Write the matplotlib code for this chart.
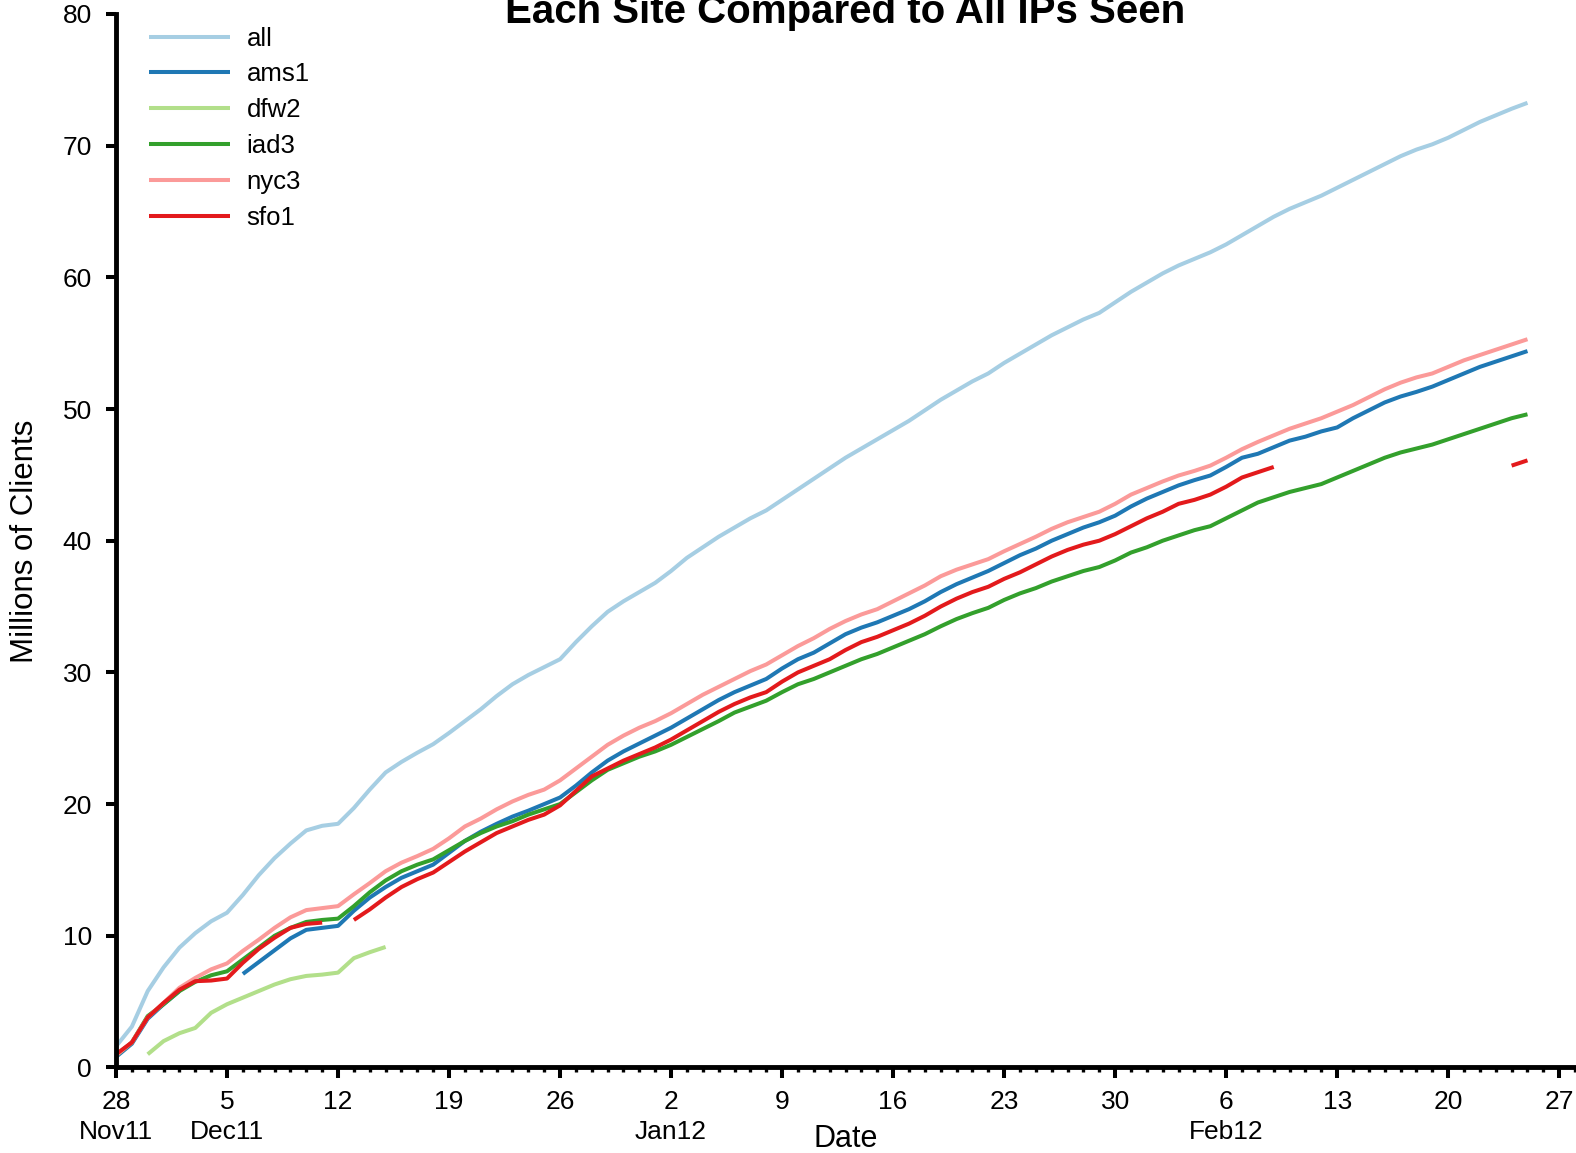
import numpy as np
import pandas as pd
import matplotlib
matplotlib.use('Agg')
import matplotlib.pyplot as plt
import matplotlib.dates as mdates
from matplotlib.ticker import FuncFormatter, MultipleLocator

plt.rcParams['font.family'] = ['Liberation Sans', 'DejaVu Sans']

nan = np.nan
start_day = '2011-11-28'  # один отсчёт в день

all_ips = [1.6, 3.1, 5.8, 7.6, 9.1, 10.2, 11.1, 11.75, 13.1, 14.6,
           15.9, 17.0, 18.0, 18.35, 18.5, 19.7, 21.1, 22.4, 23.2, 23.9,
           24.55, 25.4, 26.3, 27.2, 28.2, 29.1, 29.8, 30.4, 31.0, 32.3,
           33.5, 34.6, 35.4, 36.1, 36.8, 37.7, 38.7, 39.5, 40.3, 41.0,
           41.7, 42.3, 43.1, 43.9, 44.7, 45.5, 46.3, 47.0, 47.7, 48.4,
           49.1, 49.9, 50.7, 51.4, 52.1, 52.7, 53.5, 54.2, 54.9, 55.6,
           56.2, 56.8, 57.3, 58.1, 58.9, 59.6, 60.3, 60.9, 61.4, 61.9,
           62.5, 63.2, 63.9, 64.6, 65.2, 65.7, 66.2, 66.8, 67.4, 68.0,
           68.6, 69.2, 69.7, 70.1, 70.6, 71.2, 71.8, 72.3, 72.8, 73.25]

ams1 = [0.8, 1.8, 3.7, 4.8, 5.8, nan, nan, nan, 7.1, 8.0,
        8.9, 9.8, 10.45, 10.6, 10.75, 11.9, 12.9, 13.7, 14.4, 14.9,
        15.4, 16.3, 17.2, 17.9, 18.5, 19.05, 19.5, 20.0, 20.5, 21.4,
        22.4, 23.3, 24.0, 24.6, 25.2, 25.8, 26.5, 27.2, 27.9, 28.5,
        29.0, 29.5, 30.3, 31.0, 31.5, 32.2, 32.9, 33.4, 33.8, 34.3,
        34.8, 35.4, 36.1, 36.7, 37.2, 37.7, 38.3, 38.9, 39.4, 40.0,
        40.5, 41.0, 41.4, 41.9, 42.6, 43.2, 43.7, 44.2, 44.6, 44.95,
        45.6, 46.3, 46.6, 47.1, 47.6, 47.9, 48.3, 48.6, 49.3, 49.9,
        50.5, 50.95, 51.3, 51.7, 52.2, 52.7, 53.2, 53.6, 54.0, 54.4]

dfw2 = [nan, nan, 1.0, 2.0, 2.6, 3.0, 4.15, 4.8, 5.3, 5.8,
        6.3, 6.7, 6.95, 7.05, 7.2, 8.3, 8.75, 9.15] + [nan] * 72

iad3 = [0.9, 1.9, 3.9, 4.8, 5.8, 6.5, 7.0, 7.3, 8.2, 9.1,
        10.0, 10.6, 11.05, 11.2, 11.3, 12.25, 13.3, 14.2, 14.9, 15.4,
        15.8, 16.5, 17.2, 17.8, 18.3, 18.7, 19.2, 19.6, 20.0, 20.9,
        21.8, 22.6, 23.1, 23.6, 24.0, 24.5, 25.1, 25.7, 26.3, 26.95,
        27.4, 27.85, 28.5, 29.1, 29.5, 30.0, 30.5, 31.0, 31.4, 31.9,
        32.4, 32.9, 33.5, 34.05, 34.5, 34.9, 35.5, 36.0, 36.4, 36.9,
        37.3, 37.7, 38.0, 38.5, 39.1, 39.5, 40.0, 40.4, 40.8, 41.1,
        41.7, 42.3, 42.9, 43.3, 43.7, 44.0, 44.3, 44.8, 45.3, 45.8,
        46.3, 46.7, 47.0, 47.3, 47.7, 48.1, 48.5, 48.9, 49.3, 49.6]

nyc3 = [0.9, 1.9, 3.8, 4.9, 6.05, 6.8, 7.45, 7.9, 8.85, 9.7,
        10.6, 11.4, 11.95, 12.1, 12.25, 13.15, 14.0, 14.9, 15.55, 16.05,
        16.6, 17.4, 18.3, 18.9, 19.6, 20.2, 20.7, 21.1, 21.8, 22.7,
        23.6, 24.5, 25.2, 25.8, 26.3, 26.9, 27.6, 28.3, 28.9, 29.5,
        30.1, 30.6, 31.3, 32.0, 32.6, 33.3, 33.9, 34.4, 34.8, 35.4,
        36.0, 36.6, 37.3, 37.8, 38.2, 38.6, 39.2, 39.75, 40.3, 40.9,
        41.4, 41.8, 42.2, 42.8, 43.5, 44.0, 44.5, 44.95, 45.3, 45.7,
        46.3, 46.95, 47.5, 48.0, 48.5, 48.9, 49.3, 49.8, 50.3, 50.9,
        51.5, 52.0, 52.4, 52.7, 53.2, 53.7, 54.1, 54.5, 54.9, 55.3]

sfo1 = [1.0, 1.9, 3.8, 4.9, 5.9, 6.55, 6.6, 6.75, 7.95, 9.0,
        9.85, 10.6, 10.9, 11.0, nan, 11.2, 12.0, 12.9, 13.7, 14.3,
        14.8, 15.6, 16.4, 17.1, 17.8, 18.3, 18.8, 19.2, 19.9, 21.0,
        22.1, 22.7, 23.3, 23.8, 24.3, 24.9, 25.6, 26.3, 27.0, 27.6,
        28.1, 28.5, 29.3, 30.0, 30.5, 31.0, 31.7, 32.3, 32.7, 33.2,
        33.7, 34.3, 35.0, 35.6, 36.1, 36.5, 37.1, 37.6, 38.2, 38.8,
        39.3, 39.7, 40.0, 40.5, 41.1, 41.7, 42.2, 42.8, 43.1, 43.5,
        44.1, 44.8, 45.2, 45.6] + [nan] * 14 + [45.7, 46.1]

series = [('all', all_ips, '#a6cee3'), ('ams1', ams1, '#1f78b4'),
          ('dfw2', dfw2, '#b2df8a'), ('iad3', iad3, '#33a02c'),
          ('nyc3', nyc3, '#fb9a99'), ('sfo1', sfo1, '#e31a1c')]

dates = pd.date_range(start_day, periods=len(all_ips), freq='D')

fig = plt.figure(figsize=(15.76, 11.53), dpi=100)
ax = fig.add_axes([0.0736, 0.0742, 0.9258, 0.9137])

for name, vals, col in series:
    ax.plot(dates, vals, color=col, lw=2.9, label=name,
            solid_capstyle='butt', solid_joinstyle='round')

ax.set_xlim(pd.Timestamp('2011-11-28'), pd.Timestamp('2012-02-28'))
ax.set_ylim(0, 80)
ax.yaxis.set_major_locator(MultipleLocator(10))
ax.xaxis.set_major_locator(mdates.WeekdayLocator(byweekday=mdates.MO))
ax.xaxis.set_minor_locator(mdates.DayLocator())


def date_label(x, pos):  # число, а под первым в месяце - месяц
    d = mdates.num2date(x)
    if d.day <= 7 or pos == 0:
        return '%d\n%s' % (d.day, d.strftime('%b%y'))
    return '%d' % d.day


ax.xaxis.set_major_formatter(FuncFormatter(date_label))

for s in ['top', 'right']:
    ax.spines[s].set_visible(False)
for s in ['left', 'bottom']:
    ax.spines[s].set_linewidth(3.5)
ax.tick_params(axis='both', which='major', direction='out', width=2.9, labelsize=19)
ax.tick_params(axis='x', which='major', length=8, pad=8)
ax.tick_params(axis='x', which='minor', length=3.6, width=2.4)
ax.tick_params(axis='y', which='major', length=7.2, pad=10)

fig.text(25 / 1576, 1 - 541 / 1153, 'Millions of Clients', rotation=90,
         ha='center', va='center', fontsize=22.5)
fig.text(845.5 / 1576, 6.3 / 1153, 'Date', ha='center', va='baseline', fontsize=22)
fig.text(845.5 / 1576, 1 - 23 / 1153, 'Each Site Compared to All IPs Seen',
         ha='center', va='baseline', fontsize=29, fontweight='bold')

ax.legend(loc='upper left', bbox_to_anchor=(0.0226, 0.988), frameon=False,
          fontsize=18.5, handlelength=3.15, handletextpad=0.65,
          labelspacing=0.46, borderpad=0, borderaxespad=0)

fig.canvas.draw()
for t in ax.get_xticklabels():
    t.set_linespacing(1.33)

fig.savefig('out.png', dpi=100)
